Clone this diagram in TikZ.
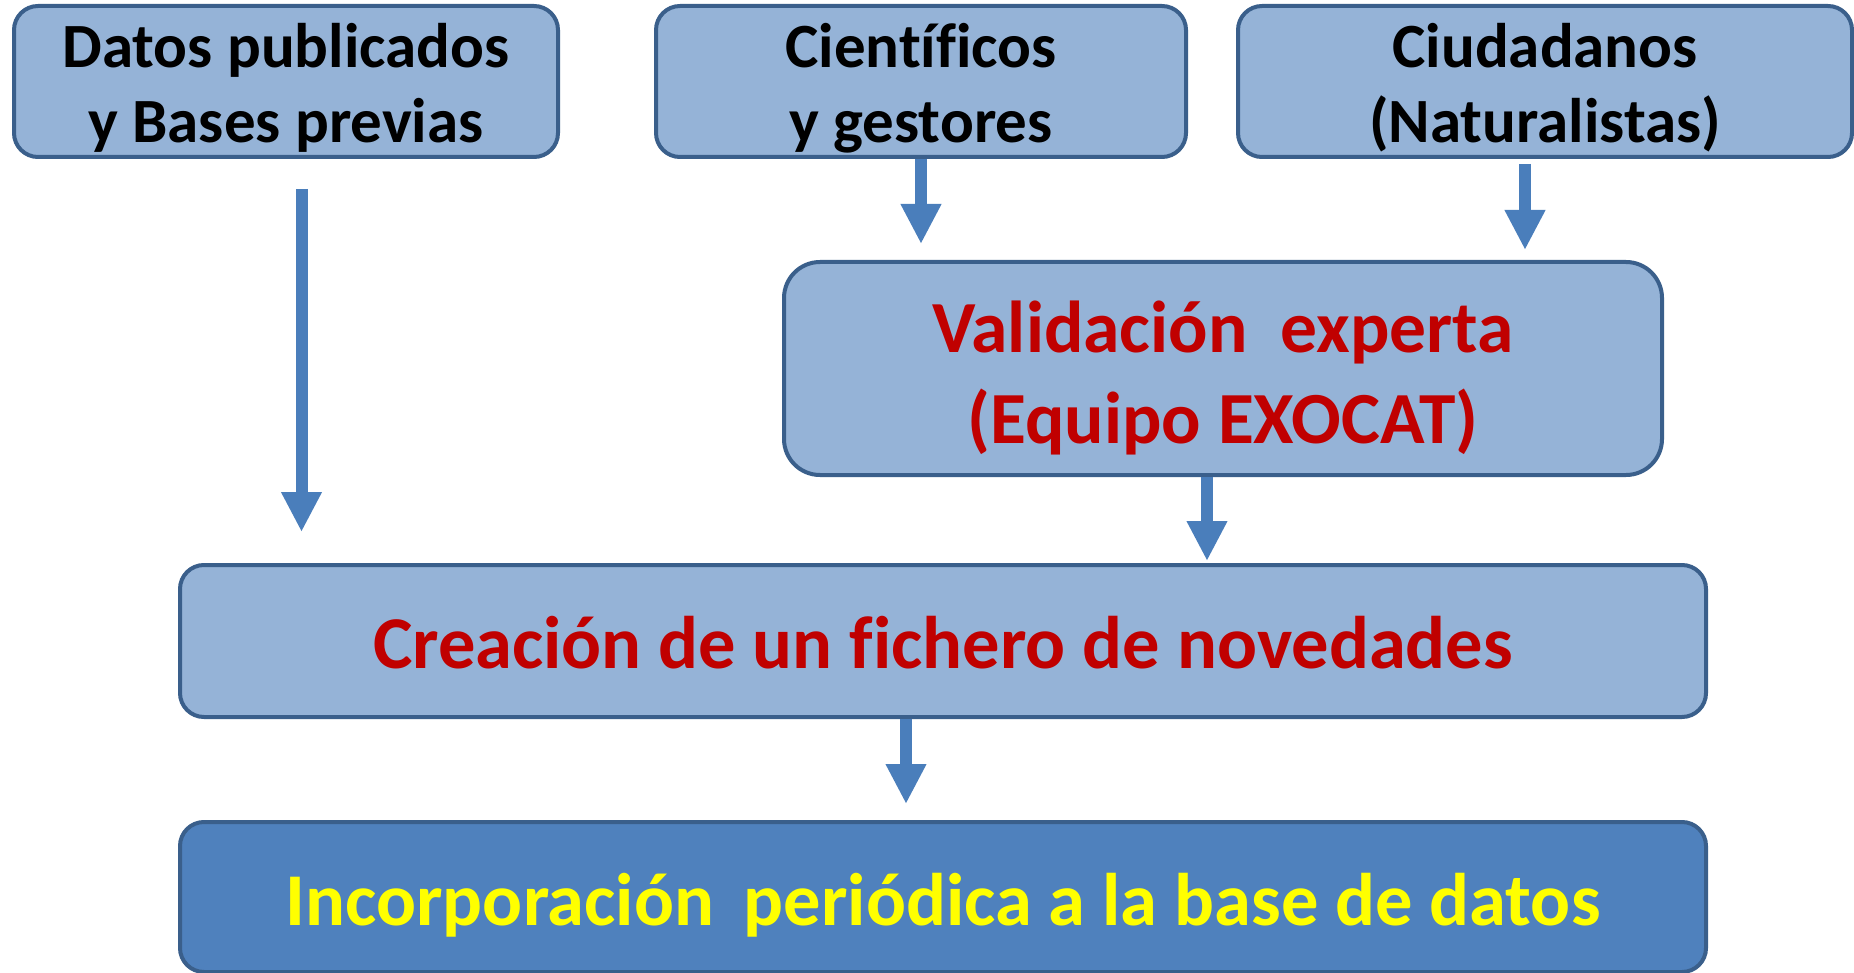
\documentclass[tikz,border=0pt]{standalone}
\usepackage{fontspec}
\setmainfont{Carlito}[Ligatures=NoCommon]
\usetikzlibrary{arrows.meta,calc}
\definecolor{boxfill}{HTML}{95B3D7}
\definecolor{boxline}{HTML}{3A5F8B}
\definecolor{darkfill}{HTML}{4F81BD}
\definecolor{arrowcol}{HTML}{4A7EBB}
\definecolor{redtxt}{HTML}{C00000}
\definecolor{yeltxt}{HTML}{FFFF00}
\newcommand\lowtext[2]{\raisebox{-#1}[\height][\depth]{\begin{tabular}{@{}c@{}}#2\end{tabular}}}
\tikzset{
  box/.style={draw=boxline, line width=4pt, fill=boxfill, rounded corners=24pt,
    align=center, inner sep=0pt, font=\bfseries\fontsize{63}{74.5}\selectfont},
  bigbox/.style={box, font=\bfseries\fontsize{73.5}{91}\selectfont, text=redtxt},
  widebox/.style={bigbox, font=\bfseries\fontsize{74.5}{91}\selectfont},
  flowarrow/.style={draw=arrowcol, line width=12pt,
    -{Triangle[width=38pt,length=40pt]}}
}
\begin{document}
\begin{tikzpicture}[x=1pt,y=-1pt]
\useasboundingbox (0,0) rectangle (1854,973);
\node[box, minimum width=544pt, minimum height=151pt] (datos) at (286,81.5)
  {\lowtext{8.5pt}{Datos publicados\\y Bases previas}};
\node[box, minimum width=530pt, minimum height=151pt] (cient) at (921,81.5)
  {\lowtext{8.5pt}{Científicos\\y gestores}};
\node[box, minimum width=614pt, minimum height=151pt] (ciud) at (1545,81.5)
  {\lowtext{8.5pt}{Ciudadanos\\(Naturalistas)}};
\node[bigbox, rounded corners=36pt, minimum width=878pt, minimum height=213pt] (valid) at (1223,368.5)
  {\lowtext{11pt}{Validación\hspace{0.45em}experta\\(Equipo EXOCAT)}};
\node[widebox, minimum width=1526pt, minimum height=152pt] (crea) at (943,641)
  {\lowtext{9.5pt}{Creación de un fichero de novedades}};
\node[widebox, fill=darkfill, text=yeltxt, minimum width=1526pt, minimum height=150pt] (incorp) at (943,897)
  {\lowtext{10.5pt}{Incorporación\hspace{0.4em}periódica a la base de datos}};
\draw[flowarrow] ($(datos.south)+(15.5,30)$) -- ($(datos.south |- crea.north)+(15.5,-31)$);
\draw[flowarrow] (cient.south) -- ($(cient.south |- valid.north)+(0,-16)$);
\draw[flowarrow] ($(ciud.south)+(-20,5)$) -- ($(ciud.south |- valid.north)+(-20,-10)$);
\draw[flowarrow] ($(valid.south)+(-16,0)$) -- ($(valid.south |- crea.north)+(-16,-2)$);
\draw[flowarrow] ($(crea.south)+(-37,0)$) -- ($(crea.south |- incorp.north)+(-37,-16)$);
\end{tikzpicture}
\end{document}
